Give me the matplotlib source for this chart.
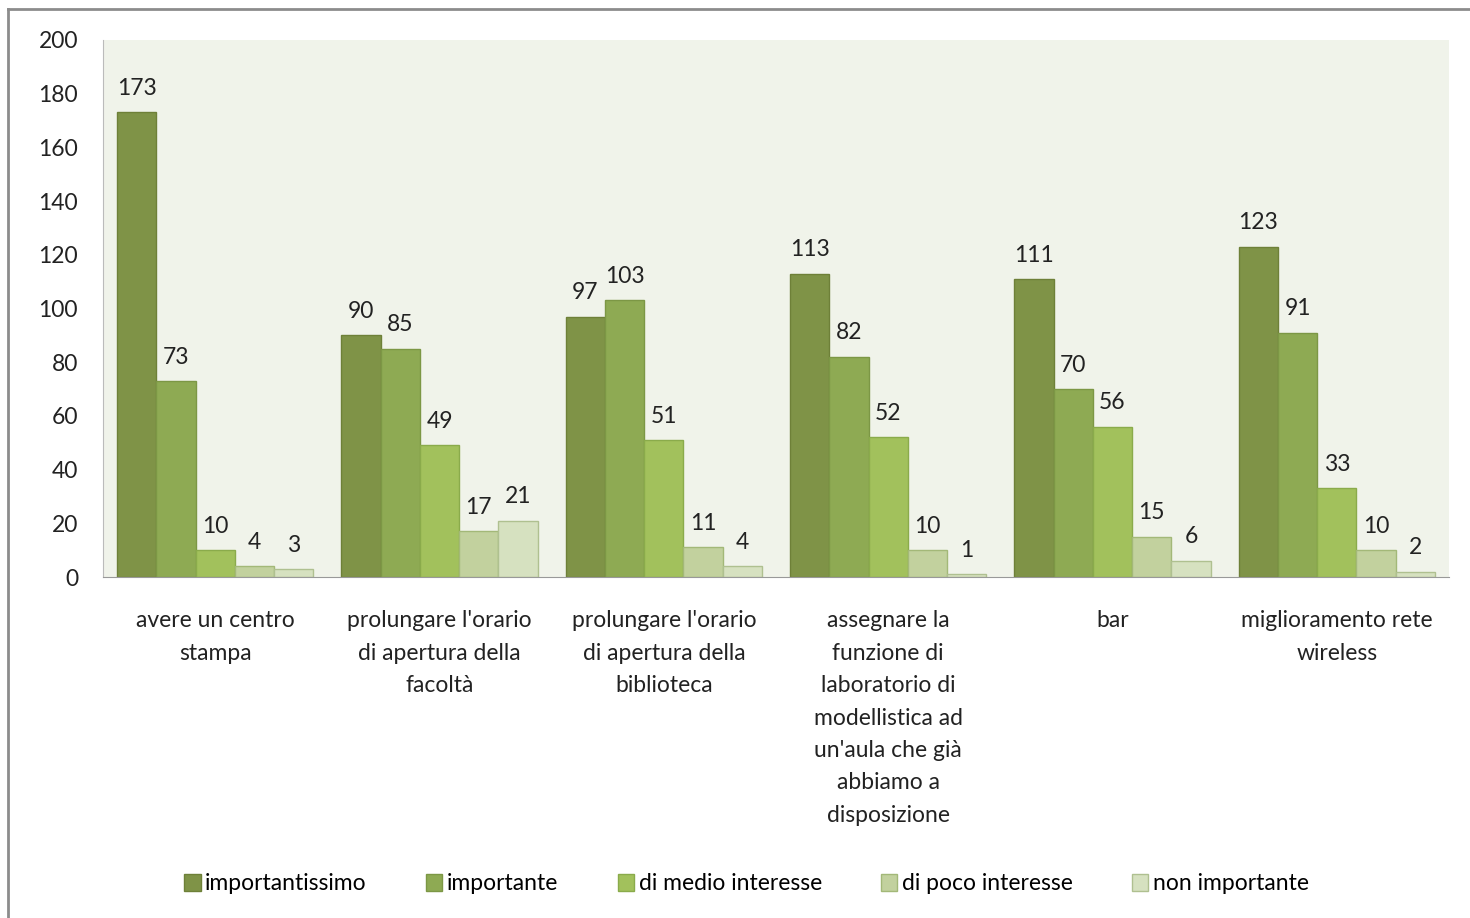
import matplotlib
matplotlib.use("Agg")
import matplotlib.pyplot as plt
from matplotlib.lines import Line2D
import numpy as np

categories = ["avere un centro\nstampa",
              "prolungare l'orario\ndi apertura della\nfacoltà",
              "prolungare l'orario\ndi apertura della\nbiblioteca",
              "assegnare la\nfunzione di\nlaboratorio di\nmodellistica ad\nun'aula che già\nabbiamo a\ndisposizione",
              "bar",
              "miglioramento rete\nwireless"]
series_names = ["importantissimo", "importante", "di medio interesse",
                "di poco interesse", "non importante"]
importantissimo = [173, 90, 97, 113, 111, 123]
importante = [73, 85, 103, 82, 70, 91]
medio = [10, 49, 51, 52, 56, 33]
poco = [4, 17, 11, 10, 15, 10]
non_importante = [3, 21, 4, 1, 6, 2]
series = [importantissimo, importante, medio, poco, non_importante]
colors = ["#7F9347", "#8EAA53", "#A2C15C", "#C2D19E", "#D6E1C0"]
edges = ["#6E8038", "#7C9745", "#8AAB4B", "#A3B878", "#AFC090"]

FS = 16.5
plt.rcParams['font.family'] = ['Lato', 'DejaVu Sans']
fig = plt.figure(figsize=(14.7, 9.18), dpi=100)
ax = fig.add_axes([103/1470, 1-577/918, 1346/1470, 537/918])
ax.set_facecolor("#F0F3EA")

x = np.arange(len(categories))
w = 0.175
for i, (vals, name) in enumerate(zip(series, series_names)):
    pos = x + (i - 2) * w
    bars = ax.bar(pos, vals, w, color=colors[i], edgecolor=edges[i], linewidth=1, label=name)
    for b, v in zip(bars, vals):
        ax.text(b.get_x() + b.get_width()/2, v + 5, str(v), ha='center', va='bottom',
                fontsize=FS, color='#222222')

ax.set_xlim(-0.5, len(categories) - 0.5)
ax.set_ylim(0, 200)
ax.set_yticks(range(0, 201, 20))
ax.set_xticks(x)
ax.set_xticklabels(categories, fontsize=FS, color='#222222', linespacing=1.67, va='top')
ax.tick_params(axis='x', length=0, pad=24)
ax.tick_params(axis='y', length=0, pad=18, labelsize=FS, labelcolor='#222222')
for s in ['top', 'right']:
    ax.spines[s].set_visible(False)
ax.spines['left'].set_color('#BBBBBB')
ax.spines['bottom'].set_color('#999999')

handles = [plt.Rectangle((0, 0), 1, 1, facecolor=colors[i], edgecolor=edges[i]) for i in range(5)]
fig.legend(handles, series_names, loc='center', bbox_to_anchor=(0.508, 1-884/918), ncol=5,
           frameon=False, fontsize=FS, handlelength=0.7, handleheight=0.7,
           handletextpad=0.2, columnspacing=2.6)

# outer frame
fig.add_artist(Line2D([8/1470, 8/1470], [0, 1-9/918], transform=fig.transFigure, color='#8C8C8C', lw=2))
fig.add_artist(Line2D([8/1470, 1], [1-9/918, 1-9/918], transform=fig.transFigure, color='#8C8C8C', lw=2))

fig.savefig("out.png", dpi=100)
